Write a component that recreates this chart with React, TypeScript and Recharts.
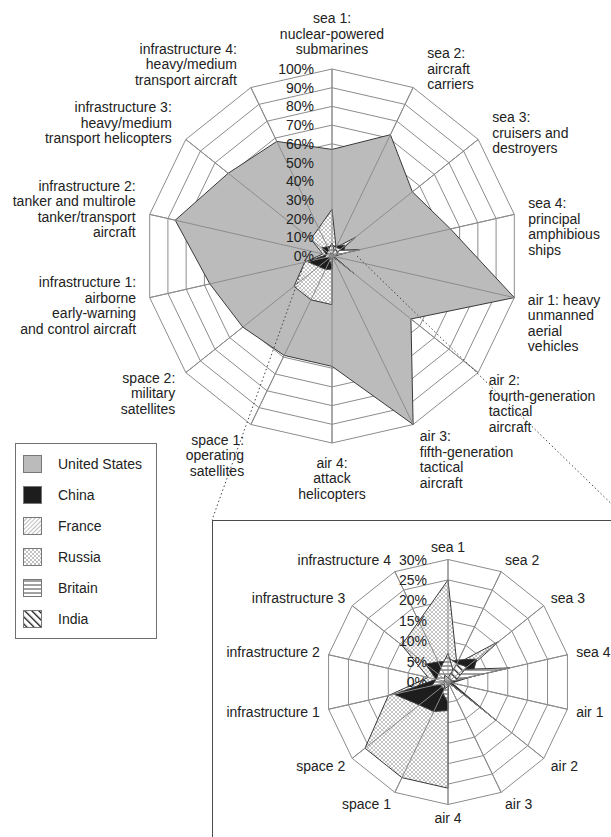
import React from "react";
import { RadarChart, Radar, PolarGrid, PolarAngleAxis, PolarRadiusAxis } from "recharts";

// axis order, clockwise from the top
const categories = [
  "sea 1",
  "sea 2",
  "sea 3",
  "sea 4",
  "air 1",
  "air 2",
  "air 3",
  "air 4",
  "space 1",
  "space 2",
  "infrastructure 1",
  "infrastructure 2",
  "infrastructure 3",
  "infrastructure 4",
];

const mainLabels = [
  ["sea 1:", "nuclear-powered", "submarines"],
  ["sea 2:", "aircraft", "carriers"],
  ["sea 3:", "cruisers and", "destroyers"],
  ["sea 4:", "principal", "amphibious", "ships"],
  ["air 1: heavy", "unmanned", "aerial", "vehicles"],
  ["air 2:", "fourth-generation", "tactical", "aircraft"],
  ["air 3:", "fifth-generation", "tactical", "aircraft"],
  ["air 4:", "attack", "helicopters"],
  ["space 1:", "operating", "satellites"],
  ["space 2:", "military", "satellites"],
  ["infrastructure 1:", "airborne", "early-warning", "and control aircraft"],
  ["infrastructure 2:", "tanker and multirole", "tanker/transport", "aircraft"],
  ["infrastructure 3:", "heavy/medium", "transport helicopters"],
  ["infrastructure 4:", "heavy/medium", "transport aircraft"],
];

// share of holdings, %
const unitedStates = [57, 72, 55, 65, 100, 54, 100, 59, 59, 61, 67, 86, 71, 68];
const china = [5, 6, 9, 6, 1, 15, 0, 7, 8, 9, 13.5, 3, 7, 5.5];
const france = [6, 5, 5, 7, 0, 3, 0, 2, 2, 2, 2, 3, 2, 3];
const russia = [25, 5, 16, 2, 0, 0, 0, 26, 26, 26, 15, 5, 14.5, 16.5];
const britain = [7, 3, 5, 15.5, 0, 3, 0, 5, 3, 1, 4, 3, 3, 4];
const india = [1, 5, 6, 2, 0, 2, 0, 1, 2, 1, 1, 1, 1, 2];

const mainTicks = [0, 10, 20, 30, 40, 50, 60, 70, 80, 90, 100];
const insetTicks = [0, 5, 10, 15, 20, 25, 30];

const legendNames = ["United States", "China", "France", "Russia", "Britain", "India"];

const rows = categories.map((axis, i) => ({
  axis,
  "United States": unitedStates[i],
  China: china[i],
  France: france[i],
  Russia: russia[i],
  Britain: britain[i],
  India: india[i],
}));

const FONT = '"Liberation Sans", Arial, Helvetica, sans-serif';
const TEXT = "#222";
const GRID = "#8c8c8c";
const OUTLINE = "#3a3a3a";
const RAD = Math.PI / 180;

const FILLS: Record<string, string> = {
  "United States": "#bbbbbb",
  China: "#1d1d1d",
  France: "url(#hatchFrance)",
  Russia: "url(#hatchRussia)",
  Britain: "url(#hatchBritain)",
  India: "url(#hatchIndia)",
};

// bottom to top
const drawOrder = ["United States", "Russia", "China", "France", "Britain", "India"];

function Patterns() {
  return (
    <svg width={0} height={0} style={{ position: "absolute" }}>
      <defs>
        <pattern id="hatchRussia" width={4} height={4} patternUnits="userSpaceOnUse">
          <rect width={4} height={4} fill="#fff" />
          <path d="M0,0 L4,4 M4,0 L0,4" stroke="#9a9a9a" strokeWidth={0.6} />
        </pattern>
        <pattern id="hatchFrance" width={3} height={3} patternUnits="userSpaceOnUse" patternTransform="rotate(45)">
          <rect width={3} height={3} fill="#fff" />
          <line x1={0} y1={0} x2={0} y2={3} stroke="#7a7a7a" strokeWidth={1} />
        </pattern>
        <pattern id="hatchBritain" width={4} height={4} patternUnits="userSpaceOnUse">
          <rect width={4} height={4} fill="#fff" />
          <line x1={0} y1={2} x2={4} y2={2} stroke="#444" strokeWidth={1} />
        </pattern>
        <pattern id="hatchIndia" width={5} height={5} patternUnits="userSpaceOnUse" patternTransform="rotate(-45)">
          <rect width={5} height={5} fill="#fff" />
          <line x1={0} y1={0} x2={0} y2={5} stroke="#111" strokeWidth={2.6} />
        </pattern>
      </defs>
    </svg>
  );
}

function MainAngleTick(props: any) {
  const { x, y, payload } = props;
  const a = payload.coordinate * RAD;
  const c = Math.cos(a);
  const s = Math.sin(a);
  const px = x - 8 * c;
  const py = y + 8 * s;
  const lines = mainLabels[categories.indexOf(payload.value)] || [String(payload.value)];
  const lh = 15.5;
  const h = lines.length * lh;
  let tx = px;
  let mid = py;
  let anchor: "start" | "end" | "middle" = "middle";
  if (Math.abs(c) < 0.01) {
    mid = py - s * (h / 2 + 12);
  } else {
    anchor = c > 0 ? "start" : "end";
    const gap = 14 - 9 * Math.max(0, -s) ** 2;
    tx = px + Math.sign(c) * gap;
    mid = py - 30 * s + 6 + 5 * c + 9 * Math.max(0, c) ** 6;
  }
  const y0 = mid - h / 2 + lh / 2 + 5;
  return (
    <text textAnchor={anchor} fontSize={14} fontFamily={FONT} fill={TEXT}>
      {lines.map((l, i) => (
        <tspan key={i} x={tx} y={y0 + i * lh}>
          {l}
        </tspan>
      ))}
    </text>
  );
}

function InsetAngleTick(props: any) {
  const { x, y, payload } = props;
  const a = payload.coordinate * RAD;
  const c = Math.cos(a);
  const s = Math.sin(a);
  const px = x - 8 * c;
  const py = y + 8 * s;
  const anchor = Math.abs(c) < 0.01 ? "middle" : c > 0 ? "start" : "end";
  return (
    <text x={px + c * 9} y={py - s * 13 + 5} textAnchor={anchor} fontSize={14} fontFamily={FONT} fill={TEXT}>
      {payload.value}
    </text>
  );
}

const pctTick = (offset: number) => (p: any) => (
  <text x={p.x - offset} y={p.y + 5} textAnchor="end" fontSize={14} fontFamily={FONT} fill={TEXT}>
    {`${p.payload.value}%`}
  </text>
);

function SwatchLegend() {
  return (
    <div
      style={{
        position: "absolute",
        left: 15,
        top: 443,
        width: 140,
        height: 194,
        border: "1px solid #6f6f6f",
        background: "#fff",
      }}
    >
      {legendNames.map((name, i) => (
        <div
          key={name}
          style={{ position: "absolute", left: 7, top: 4 + 31 * i, height: 31, display: "flex", alignItems: "center" }}
        >
          <svg width={19} height={18} style={{ display: "block" }}>
            <rect x={0.5} y={0.5} width={18} height={17} fill={FILLS[name]} stroke="#777" />
          </svg>
          <span style={{ marginLeft: 16, fontSize: 14, fontFamily: FONT, color: TEXT, whiteSpace: "nowrap" }}>
            {name}
          </span>
        </div>
      ))}
    </div>
  );
}

function radars(names: string[]) {
  return names.map((name) => (
    <Radar
      key={name}
      name={name}
      dataKey={name}
      stroke={OUTLINE}
      strokeWidth={1}
      fill={FILLS[name]}
      fillOpacity={1}
      dot={false}
      isAnimationActive={false}
    />
  ));
}

export default function App() {
  return (
    <div
      style={{
        position: "absolute",
        left: 0,
        top: 0,
        width: 611,
        height: 837,
        overflow: "hidden",
        background: "#fff",
      }}
    >
      <Patterns />
      <div style={{ position: "absolute", left: 0, top: 0 }}>
        <RadarChart
          width={611}
          height={520}
          data={rows}
          cx={332}
          cy={256}
          outerRadius={187}
          startAngle={90}
          endAngle={-270}
          margin={{ top: 0, right: 0, bottom: 0, left: 0 }}
        >
          <PolarGrid stroke={GRID} strokeWidth={1} />
          <PolarAngleAxis dataKey="axis" tick={(p: any) => <MainAngleTick {...p} />} tickLine={false} axisLine={false} />
          {radars(drawOrder)}
          <PolarGrid polarRadius={[]} stroke={GRID} strokeWidth={1} zIndex={700} />
          <PolarRadiusAxis
            angle={90}
            domain={[0, mainTicks[mainTicks.length - 1]]}
            tickCount={mainTicks.length}
            tick={pctTick(18)}
            axisLine={false}
            zIndex={800}
          />
        </RadarChart>
      </div>

      <div
        style={{
          position: "absolute",
          left: 212,
          top: 520,
          width: 430,
          height: 340,
          border: "1px solid #4a4a4a",
          boxSizing: "border-box",
        }}
      />

      <div style={{ position: "absolute", left: 212, top: 520 }}>
        <RadarChart
          width={399}
          height={317}
          data={rows}
          cx={236}
          cy={162}
          outerRadius={122.5}
          startAngle={90}
          endAngle={-270}
          margin={{ top: 0, right: 0, bottom: 0, left: 0 }}
        >
          <PolarGrid stroke={GRID} strokeWidth={1} />
          <PolarAngleAxis dataKey="axis" tick={(p: any) => <InsetAngleTick {...p} />} tickLine={false} axisLine={false} />
          {radars(drawOrder.filter((n) => n !== "United States"))}
          <PolarGrid polarRadius={[]} stroke={GRID} strokeWidth={1} zIndex={700} />
          <PolarRadiusAxis
            angle={90}
            domain={[0, insetTicks[insetTicks.length - 1]]}
            tickCount={insetTicks.length}
            tick={pctTick(21)}
            axisLine={false}
            zIndex={800}
          />
        </RadarChart>
      </div>

      <SwatchLegend />

      <svg width={611} height={837} style={{ position: "absolute", left: 0, top: 0, pointerEvents: "none" }}>
        <line x1={307} y1={256} x2={212} y2={520} stroke="#444" strokeWidth={1} strokeDasharray="1.5 2.5" />
        <line x1={357} y1={256} x2={628} y2={520} stroke="#444" strokeWidth={1} strokeDasharray="1.5 2.5" />
      </svg>
    </div>
  );
}
